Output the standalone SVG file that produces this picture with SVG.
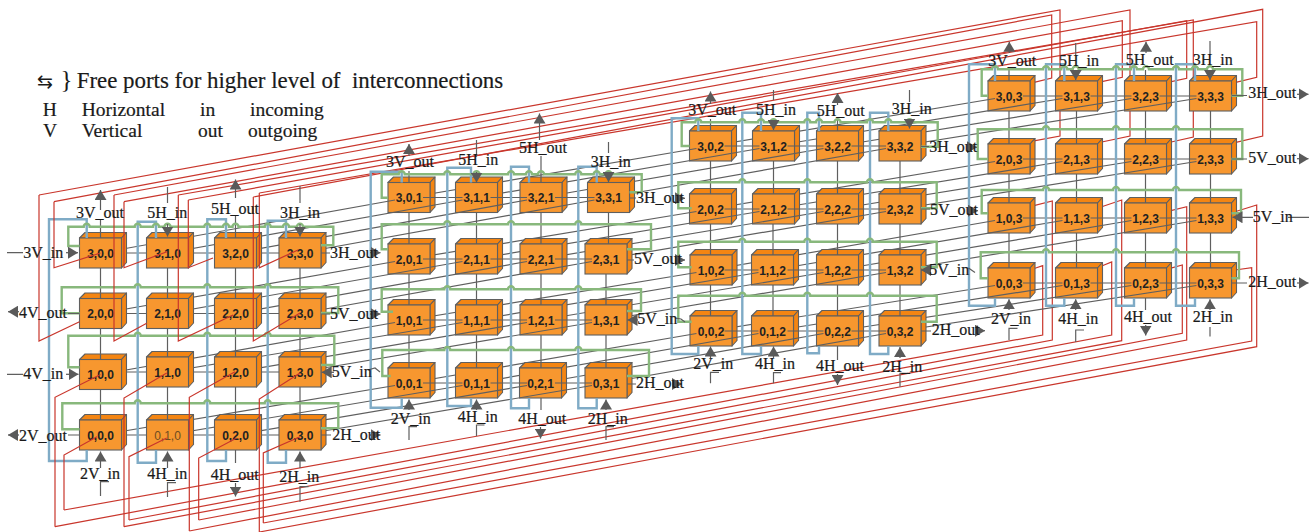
<svg xmlns="http://www.w3.org/2000/svg" width="1314" height="532" viewBox="0 0 1314 532">
<style>
text{font-family:"Liberation Serif","Times New Roman",serif;fill:#1a1a1a}
.n{font-family:"Liberation Sans",Arial,sans-serif;font-size:12px;font-weight:bold;text-anchor:middle;fill:#222}
.l{font-size:16px;stroke:#1a1a1a;stroke-width:.2}
.t{font-size:19.5px;stroke:#1a1a1a;stroke-width:.2}
.g,.a,.red,.blue,.green{fill:none}
.g{stroke:#5f5f5f;stroke-width:1.2}
.a{stroke:#5a5a5a;stroke-width:1.2;marker-end:url(#arr)}
.red{stroke:#c9362c;stroke-width:1.2}
.blue{stroke:#7fabc6;stroke-width:2.4}
.green{stroke:#88b87c;stroke-width:2.4}
.f{fill:#f7972f;stroke:#5f5f5f;stroke-width:1.1}
.s{fill:#f48512;stroke:#5f5f5f;stroke-width:1.1;stroke-linejoin:round}
</style>
<defs>
<marker id="arr" markerUnits="userSpaceOnUse" markerWidth="11" markerHeight="12" refX="10" refY="6" orient="auto"><path d="M0 0L10 6L0 12z" fill="#5a5a5a"/></marker>
<g id="cube"><polygon class="s" points="0,0 5.5,-5.5 47,-5.5 42,0"/><polygon class="s" points="42,0 47,-5.5 47,24.5 42,30"/><rect class="f" width="42" height="30"/></g>
</defs>
<rect width="1314" height="532" fill="#fff"/>

<g id="conn-red-long" class="red">
<path d="M54 201.7L1051.7 15V78L1030 83.3"/>
<path d="M39 195L1060 10V136L1030 141.7"/>
<path d="M124 201.7L1122.3 20.7V77.3L1097 82.7"/>
<path d="M114 195L1130 10V136L1097 143"/>
<path d="M188.3 200L1186.7 20.7V78.3L1166.7 82.7"/>
<path d="M178.3 195L1193.3 20V137L1166.7 143"/>
<path d="M259.3 193L1256.7 21.7V77.3L1231.7 83.3"/>
<path d="M253.3 197L1262.7 9.3V136L1231.7 143.3"/>
<path d="M55 526.7L1052.3 340V201L1030 206.7"/>
<path d="M64 510L1042.7 335V265.7L1035 268.3"/>
<path d="M124 526.7L1121.7 340.7V200L1101.7 206.7"/>
<path d="M129 520L1111.7 335V262L1101.7 266"/>
<path d="M189.3 531L1186.7 340V206.7L1166.7 211.7"/>
<path d="M198.7 520L1182.3 333.3V265L1170 268.3"/>
<path d="M259.3 532L1256.7 346.7V205L1235 211.7"/>
<path d="M263.3 523L1251.7 341V267.7L1235 270"/>
</g>

<g id="nodes-layer-3">
<g id="n3-0-3"><use href="#cube" x="988" y="81"/><text class="n" x="1009" y="100.5">3,0,3</text></g>
<g id="n3-1-3"><use href="#cube" x="1055.5" y="81"/><text class="n" x="1076.5" y="100.5">3,1,3</text></g>
<g id="n3-2-3"><use href="#cube" x="1124.5" y="81"/><text class="n" x="1145.5" y="100.5">3,2,3</text></g>
<g id="n3-3-3"><use href="#cube" x="1189.5" y="81"/><text class="n" x="1210.5" y="100.5">3,3,3</text></g>
<g id="n2-0-3"><use href="#cube" x="988" y="144"/><text class="n" x="1009" y="163.5">2,0,3</text></g>
<g id="n2-1-3"><use href="#cube" x="1055.5" y="144"/><text class="n" x="1076.5" y="163.5">2,1,3</text></g>
<g id="n2-2-3"><use href="#cube" x="1124.5" y="144"/><text class="n" x="1145.5" y="163.5">2,2,3</text></g>
<g id="n2-3-3"><use href="#cube" x="1189.5" y="144"/><text class="n" x="1210.5" y="163.5">2,3,3</text></g>
<g id="n1-0-3"><use href="#cube" x="988" y="203"/><text class="n" x="1009" y="222.5">1,0,3</text></g>
<g id="n1-1-3"><use href="#cube" x="1055.5" y="203"/><text class="n" x="1076.5" y="222.5">1,1,3</text></g>
<g id="n1-2-3"><use href="#cube" x="1124.5" y="203"/><text class="n" x="1145.5" y="222.5">1,2,3</text></g>
<g id="n1-3-3"><use href="#cube" x="1189.5" y="203"/><text class="n" x="1210.5" y="222.5">1,3,3</text></g>
<g id="n0-0-3"><use href="#cube" x="988" y="268"/><text class="n" x="1009" y="287.5">0,0,3</text></g>
<g id="n0-1-3"><use href="#cube" x="1055.5" y="268"/><text class="n" x="1076.5" y="287.5">0,1,3</text></g>
<g id="n0-2-3"><use href="#cube" x="1124.5" y="268"/><text class="n" x="1145.5" y="287.5">0,2,3</text></g>
<g id="n0-3-3"><use href="#cube" x="1189.5" y="268"/><text class="n" x="1210.5" y="287.5">0,3,3</text></g>
</g>

<g id="conn-layer-3" class="g">
<path d="M710.5 146L995 98.5M773.5 146L1062.5 98.5M837.5 146L1131.5 98.5M900 146L1196.5 98.5M710.5 209L995 161.5M773.5 209L1062.5 161.5M837.5 209L1131.5 161.5M900 209L1196.5 161.5M710.5 270L995 220.5M772.5 270L1062.5 220.5M837.5 270L1131.5 220.5M900 270L1196.5 220.5M710.5 331L995 285.5M772.5 331L1062.5 285.5M837.5 331L1131.5 285.5M900 331L1196.5 285.5"/>
<path d="M1023 96H1062.5M1090.5 96H1131.5M1159.5 96H1196.5M1023 159H1062.5M1090.5 159H1131.5M1159.5 159H1196.5M1023 218H1062.5M1090.5 218H1131.5M1159.5 218H1196.5M1023 283H1062.5M1090.5 283H1131.5M1159.5 283H1196.5"/>
<path d="M1009 70V81M1009 111V144M1009 174V203M1009 233V268M1076.5 111V144M1076.5 174V203M1076.5 233V268M1145.5 70V81M1145.5 111V144M1145.5 174V203M1145.5 233V268M1145.5 298V310M1210.5 111V144M1210.5 174V203M1210.5 233V268"/>
</g>

<g id="nodes-layer-2">
<g id="n3-0-2"><use href="#cube" x="689.5" y="131"/><text class="n" x="710.5" y="150.5">3,0,2</text></g>
<g id="n3-1-2"><use href="#cube" x="752.5" y="131"/><text class="n" x="773.5" y="150.5">3,1,2</text></g>
<g id="n3-2-2"><use href="#cube" x="816.5" y="131"/><text class="n" x="837.5" y="150.5">3,2,2</text></g>
<g id="n3-3-2"><use href="#cube" x="879" y="131"/><text class="n" x="900" y="150.5">3,3,2</text></g>
<g id="n2-0-2"><use href="#cube" x="689.5" y="194"/><text class="n" x="710.5" y="213.5">2,0,2</text></g>
<g id="n2-1-2"><use href="#cube" x="752.5" y="194"/><text class="n" x="773.5" y="213.5">2,1,2</text></g>
<g id="n2-2-2"><use href="#cube" x="816.5" y="194"/><text class="n" x="837.5" y="213.5">2,2,2</text></g>
<g id="n2-3-2"><use href="#cube" x="879" y="194"/><text class="n" x="900" y="213.5">2,3,2</text></g>
<g id="n1-0-2"><use href="#cube" x="690" y="255"/><text class="n" x="711" y="274.5">1,0,2</text></g>
<g id="n1-1-2"><use href="#cube" x="751.5" y="255"/><text class="n" x="772.5" y="274.5">1,1,2</text></g>
<g id="n1-2-2"><use href="#cube" x="816.5" y="255"/><text class="n" x="837.5" y="274.5">1,2,2</text></g>
<g id="n1-3-2"><use href="#cube" x="879" y="255"/><text class="n" x="900" y="274.5">1,3,2</text></g>
<g id="n0-0-2"><use href="#cube" x="690" y="316"/><text class="n" x="711" y="335.5">0,0,2</text></g>
<g id="n0-1-2"><use href="#cube" x="751.5" y="316"/><text class="n" x="772.5" y="335.5">0,1,2</text></g>
<g id="n0-2-2"><use href="#cube" x="816.5" y="316"/><text class="n" x="837.5" y="335.5">0,2,2</text></g>
<g id="n0-3-2"><use href="#cube" x="879" y="316"/><text class="n" x="900" y="335.5">0,3,2</text></g>
</g>

<g id="conn-layer-2" class="g">
<path d="M409 197.5L696.5 148.5M476.5 197.5L759.5 148.5M541 197.5L823.5 148.5M608.5 197.5L886 148.5M409 259L696.5 211.5M476.5 259L759.5 211.5M541 259L823.5 211.5M606 259L886 211.5M409 320L696.5 272.5M476.5 320L758.5 272.5M541 320L823.5 272.5M606 320L886 272.5M409 383L696.5 333.5M476.5 383L758.5 333.5M541 383L823.5 333.5M606 383L886 333.5"/>
<path d="M724.5 146H759.5M787.5 146H823.5M851.5 146H886M724.5 209H759.5M787.5 209H823.5M851.5 209H886M724.5 270H758.5M787.5 270H823.5M851.5 270H886M724.5 331H758.5M787.5 331H823.5M851.5 331H886"/>
<path d="M710.5 119V131M710.5 161V194M710.5 224V255M710.5 285V316M773.5 161V194M773 224V255M773 285V316M837.5 119V131M837.5 161V194M837.5 224V255M837.5 285V316M837.5 346V360M900 161V194M900 224V255M900 285V316"/>
</g>

<g id="nodes-layer-1">
<g id="n3-0-1"><use href="#cube" x="388" y="182.5"/><text class="n" x="409" y="202">3,0,1</text></g>
<g id="n3-1-1"><use href="#cube" x="455.5" y="182.5"/><text class="n" x="476.5" y="202">3,1,1</text></g>
<g id="n3-2-1"><use href="#cube" x="520" y="182.5"/><text class="n" x="541" y="202">3,2,1</text></g>
<g id="n3-3-1"><use href="#cube" x="587.5" y="182.5"/><text class="n" x="608.5" y="202">3,3,1</text></g>
<g id="n2-0-1"><use href="#cube" x="388" y="244"/><text class="n" x="409" y="263.5">2,0,1</text></g>
<g id="n2-1-1"><use href="#cube" x="455.5" y="244"/><text class="n" x="476.5" y="263.5">2,1,1</text></g>
<g id="n2-2-1"><use href="#cube" x="520" y="244"/><text class="n" x="541" y="263.5">2,2,1</text></g>
<g id="n2-3-1"><use href="#cube" x="585" y="244"/><text class="n" x="606" y="263.5">2,3,1</text></g>
<g id="n1-0-1"><use href="#cube" x="388" y="305"/><text class="n" x="409" y="324.5">1,0,1</text></g>
<g id="n1-1-1"><use href="#cube" x="455.5" y="305"/><text class="n" x="476.5" y="324.5">1,1,1</text></g>
<g id="n1-2-1"><use href="#cube" x="520" y="305"/><text class="n" x="541" y="324.5">1,2,1</text></g>
<g id="n1-3-1"><use href="#cube" x="585" y="305"/><text class="n" x="606" y="324.5">1,3,1</text></g>
<g id="n0-0-1"><use href="#cube" x="388" y="368"/><text class="n" x="409" y="387.5">0,0,1</text></g>
<g id="n0-1-1"><use href="#cube" x="455.5" y="368"/><text class="n" x="476.5" y="387.5">0,1,1</text></g>
<g id="n0-2-1"><use href="#cube" x="519.5" y="368"/><text class="n" x="540.5" y="387.5">0,2,1</text></g>
<g id="n0-3-1"><use href="#cube" x="585" y="368"/><text class="n" x="606" y="387.5">0,3,1</text></g>
</g>

<g id="conn-layer-1" class="g">
<path d="M100.5 253L395 200M167.5 253L462.5 200M235.5 253L527 200M300 253L594.5 200M100.5 313.5L395 261.5M167.5 313.5L462.5 261.5M235.5 313.5L527 261.5M300 313.5L592 261.5M100.5 374.5L395 322.5M167.5 372L462.5 322.5M235.5 372L527 322.5M300 372L592 322.5M100.5 435L395 385.5M167.5 435L462.5 385.5M235.5 435L527 385.5M300 435L592 385.5"/>
<path d="M423 197.5H462.5M490.5 197.5H527M555 197.5H594.5M423 259H462.5M490.5 259H527M555 259H592M423 320H462.5M490.5 320H527M555 320H592M423 383H462.5M490.5 383H527M555 383H592"/>
<path d="M409 171V182.5M409 212.5V244M409 274V305M409 335V368M476.5 212.5V244M476.5 274V305M476.5 335V368M541 156V182.5M541 212.5V244M541 274V305M541 335V368M541 398V410M608.5 212.5V244M606 274V305M606 335V368"/>
<path d="M100.5 253H300M100.5 313.5H300M100.5 372H300M100.5 435H300"/>
</g>

<g id="nodes-layer-0">
<g id="n3-0-0"><use href="#cube" x="79.5" y="238"/><text class="n" x="100.5" y="257.5">3,0,0</text></g>
<g id="n3-1-0"><use href="#cube" x="146.5" y="238"/><text class="n" x="167.5" y="257.5">3,1,0</text></g>
<g id="n3-2-0"><use href="#cube" x="214.5" y="238"/><text class="n" x="235.5" y="257.5">3,2,0</text></g>
<g id="n3-3-0"><use href="#cube" x="279" y="238"/><text class="n" x="300" y="257.5">3,3,0</text></g>
<g id="n2-0-0"><use href="#cube" x="79.5" y="298.5"/><text class="n" x="100.5" y="318">2,0,0</text></g>
<g id="n2-1-0"><use href="#cube" x="146.5" y="298.5"/><text class="n" x="167.5" y="318">2,1,0</text></g>
<g id="n2-2-0"><use href="#cube" x="214.5" y="298.5"/><text class="n" x="235.5" y="318">2,2,0</text></g>
<g id="n2-3-0"><use href="#cube" x="279" y="298.5"/><text class="n" x="300" y="318">2,3,0</text></g>
<g id="n1-0-0"><use href="#cube" x="79.5" y="359.5"/><text class="n" x="100.5" y="379">1,0,0</text></g>
<g id="n1-1-0"><use href="#cube" x="146.5" y="357"/><text class="n" x="167.5" y="376.5">1,1,0</text></g>
<g id="n1-2-0"><use href="#cube" x="214.5" y="357"/><text class="n" x="235.5" y="376.5">1,2,0</text></g>
<g id="n1-3-0"><use href="#cube" x="279" y="357"/><text class="n" x="300" y="376.5">1,3,0</text></g>
<g id="n0-0-0"><use href="#cube" x="79.5" y="420"/><text class="n" x="100.5" y="439.5">0,0,0</text></g>
<g id="n0-1-0"><use href="#cube" x="146.5" y="420"/><text class="n" x="167.5" y="439.5" style="fill:#6d4c22;font-weight:normal">0,1,0</text></g>
<g id="n0-2-0"><use href="#cube" x="214.5" y="420"/><text class="n" x="235.5" y="439.5">0,2,0</text></g>
<g id="n0-3-0"><use href="#cube" x="279" y="420"/><text class="n" x="300" y="439.5">0,3,0</text></g>
</g>

<g id="conn-layer-0" class="g">
<path d="M100.5 220V238M100.5 268V298.5M100.5 328.5V359.5M100.5 389.5V420M167.5 268V298.5M167.5 328.5V357M167.5 387V420M235.5 216V238M235.5 268V298.5M235.5 328.5V357M235.5 387V420M235.5 450V463M300 268V298.5M300 328.5V357M300 387V420"/>
</g>

<g id="conn-blue" class="blue">
<path d="M86.7 238V219.3H49V461H86.7V450"/>
<path d="M156 238V221.7H137.7V462.7H156V450"/>
<path d="M226 238V219.3H207.3V461H226V450"/>
<path d="M286 238V220.7H267.7V462.7H286V450"/>
<path d="M401.7 182.5V171.7H370.7V407.7H401.7V398"/>
<path d="M471 182.5V167.7H447.3V406H471V398"/>
<path d="M529 182.5V166.7H511V408.3H529V398"/>
<path d="M596.7 182.5V166.7H578.3V408.3H596.7V398"/>
<path d="M698.3 131V118.3H671.7V354H698.3V346"/>
<path d="M761 131V112.7H742.3V354H761V346"/>
<path d="M819 131V112.7H807.3V353.3H819V346"/>
<path d="M888.3 131V112.7H870V354H888.3V346"/>
<path d="M995 81V64.3H969V305.7H995V298"/>
<path d="M1064.3 81V64.3H1046V305.7H1064.3V298"/>
<path d="M1134 81V64.3H1116V305.7H1134V298"/>
<path d="M1195 81V64.3H1176V305.7H1195V298"/>
</g>

<g id="conn-green" class="green">
<path d="M79.5 246H68.3V226.7H83.7a3 3 0 0 1 6 0H134.7a3 3 0 0 1 6 0H153a3 3 0 0 1 6 0H164.5a3 3 0 0 1 6 0H204.3a3 3 0 0 1 6 0H223a3 3 0 0 1 6 0H232.5a3 3 0 0 1 6 0H264.7a3 3 0 0 1 6 0H283a3 3 0 0 1 6 0H297a3 3 0 0 1 6 0H333.3V245.3H321"/>
<path d="M79.5 313.3H61.7V287.3H134.7a3 3 0 0 1 6 0H204.3a3 3 0 0 1 6 0H264.7a3 3 0 0 1 6 0H338.3V313H321"/>
<path d="M79.5 367.3H68.3V335.7H134.7a3 3 0 0 1 6 0H204.3a3 3 0 0 1 6 0H264.7a3 3 0 0 1 6 0H334.3V365H321"/>
<path d="M79.5 429.3H62.3V403.3H134.7a3 3 0 0 1 6 0H204.3a3 3 0 0 1 6 0H264.7a3 3 0 0 1 6 0H338.3V428.3H321"/>
<path d="M388 197.7H381.7V174.3H398.7a3 3 0 0 1 6 0H444.3a3 3 0 0 1 6 0H473.5a3 3 0 0 1 6 0H508a3 3 0 0 1 6 0H526a3 3 0 0 1 6 0H538a3 3 0 0 1 6 0H575.3a3 3 0 0 1 6 0H593.7a3 3 0 0 1 6 0H605.5a3 3 0 0 1 6 0H641.7V192.3H629.5"/>
<path d="M388 249.3H381.7V224.3H444.3a3 3 0 0 1 6 0H508a3 3 0 0 1 6 0H575.3a3 3 0 0 1 6 0H651V249.3H627"/>
<path d="M393 311.7H381.7V289.3H444.3a3 3 0 0 1 6 0H508a3 3 0 0 1 6 0H575.3a3 3 0 0 1 6 0H641V311H627"/>
<path d="M390.7 376H382.3V350H444.3a3 3 0 0 1 6 0H508a3 3 0 0 1 6 0H575.3a3 3 0 0 1 6 0H649V376H627"/>
<path d="M689.5 146H681.7V122.3H695.3a3 3 0 0 1 6 0H739.3a3 3 0 0 1 6 0H758a3 3 0 0 1 6 0H770.5a3 3 0 0 1 6 0H804.3a3 3 0 0 1 6 0H816a3 3 0 0 1 6 0H834.5a3 3 0 0 1 6 0H867a3 3 0 0 1 6 0H885.3a3 3 0 0 1 6 0H906.5a3 3 0 0 1 6 0H937.7V146.7H921"/>
<path d="M691.7 208.3H678.3V182.3H739.3a3 3 0 0 1 6 0H804.3a3 3 0 0 1 6 0H867a3 3 0 0 1 6 0H936.7V208.3H921"/>
<path d="M691.7 267.3H678.3V241.7H739.3a3 3 0 0 1 6 0H804.3a3 3 0 0 1 6 0H867a3 3 0 0 1 6 0H936.7V267.3H921"/>
<path d="M691.7 321.7H678.3V295.7H739.3a3 3 0 0 1 6 0H804.3a3 3 0 0 1 6 0H867a3 3 0 0 1 6 0H936.7V321.7H921"/>
<path d="M988 95.7H981.7V69.3H992a3 3 0 0 1 6 0H1043a3 3 0 0 1 6 0H1061.3a3 3 0 0 1 6 0H1072.7a3 3 0 0 1 6 0H1113a3 3 0 0 1 6 0H1131a3 3 0 0 1 6 0H1143a3 3 0 0 1 6 0H1173a3 3 0 0 1 6 0H1192a3 3 0 0 1 6 0H1207a3 3 0 0 1 6 0H1242.3V95.7H1231.5"/>
<path d="M988 159H977.7V129.3H1043a3 3 0 0 1 6 0H1113a3 3 0 0 1 6 0H1173a3 3 0 0 1 6 0H1242.3V159H1231.5"/>
<path d="M988 213.3H981.7V190H1043a3 3 0 0 1 6 0H1113a3 3 0 0 1 6 0H1173a3 3 0 0 1 6 0H1241V213.3H1231.5"/>
<path d="M988 278.3H980.7V252.3H1043a3 3 0 0 1 6 0H1113a3 3 0 0 1 6 0H1173a3 3 0 0 1 6 0H1239V278.3H1231.5"/>
</g>

<g id="conn-red-front" class="red">
<path d="M100.5 253L54 267.7V201.7"/>
<path d="M79.5 321.7L39 341V195"/>
<path d="M167 251.7L124 267.7V201.7"/>
<path d="M146.7 323.3L114 341V195"/>
<path d="M213 258L188.3 267.7V200"/>
<path d="M233 315L178.3 341V195"/>
<path d="M298 250L259.3 267.7V193"/>
<path d="M300 313L253.3 341V197"/>
<path d="M100.5 374.5L55 397.3V526.7"/>
<path d="M97 436.7L64 455V510"/>
<path d="M166.7 373L124 398V526.7"/>
<path d="M166.7 438L129 456.7V520"/>
<path d="M235 371.7L189.3 397.3V531"/>
<path d="M236.7 438L198.7 458V520"/>
<path d="M300 373L259.3 399V532"/>
<path d="M300 436.7L263.3 453V523"/>
</g>

<g id="conn-ports">
<path class="g" d="M167.5 187V203M300 186V203M7 252.7H23M321 253H330M68 313.5H79.5M321 314H330M7 374.3H23M68 435H79.5M321 435H331M100.5 496V481.7H109M167.5 497V482.7H176M300 501.7V486.7H308.5M368 370L375 368L380 372"/>
<path class="a" d="M100.5 210V190"/><path class="a" d="M167.5 224V236.5"/><path class="a" d="M235.5 198V179.5"/><path class="a" d="M300 224V236.5"/>
<path class="a" d="M66 252.7H78"/><path class="a" d="M370 252.7H380.5"/><path class="a" d="M19 311.7H8"/><path class="a" d="M370 314H380.5"/>
<path class="a" d="M66 374.3H78.5"/><path class="a" d="M334 372.3H321.7"/><path class="a" d="M19 435H8"/><path class="a" d="M370 435H380.5"/>
<path class="a" d="M100.5 468V451.5"/><path class="a" d="M167.5 468V451.5"/><path class="a" d="M235.5 483V496.5"/><path class="a" d="M300 468V451.5"/>

<path class="g" d="M476.5 140V156.7M608.5 142V153M629.5 198H636M627 260H634M627 384H636M409 440V426.7H417M476.5 436V425H484.5M606 440V426.7H614M675 318L681 319L685 322"/>
<path class="a" d="M409 156V144"/><path class="a" d="M476.5 172V182.5"/><path class="a" d="M539.5 140V113.5"/><path class="a" d="M608.5 172V182"/>
<path class="a" d="M675 198.3H685"/><path class="a" d="M675 260H685"/><path class="a" d="M638 320H627.5"/><path class="a" d="M672 384H682"/>
<path class="a" d="M409 410V399.5"/><path class="a" d="M476.5 410V399.5"/><path class="a" d="M540.5 427V438.5"/><path class="a" d="M606 410V399.5"/>

<path class="g" d="M773.5 90V100M909.5 90V102M921 146.5H929M921 209H930M921 331H931M710.5 383.3V372.3H719M773.5 383.3V372.7H781M900 386.7V373.3H908M968.5 268L975 272.5"/>
<path class="a" d="M710.5 104V91.5"/><path class="a" d="M773.5 120V130"/><path class="a" d="M837.5 105V93"/><path class="a" d="M909.5 120V128.5"/>
<path class="a" d="M967 147.3H977"/><path class="a" d="M968 210.7H978"/><path class="a" d="M930 270H921"/><path class="a" d="M975 330.7H985"/>
<path class="a" d="M710.5 358V346.5"/><path class="a" d="M773.5 358V346.5"/><path class="a" d="M837.5 374V385"/><path class="a" d="M900 358V347"/>

<path class="g" d="M1075.7 43V55M1210 41V55M1232 95.5H1247M1232 159H1247M1243 217.3H1253M1288 217.3H1309M1232 283H1247M1009 340V328.3H1017.5M1075.7 342V330H1084M1210 327V336.5"/>
<path class="a" d="M1009.3 53V41.7"/><path class="a" d="M1075.7 70V80"/><path class="a" d="M1146 53V41.7"/><path class="a" d="M1210 70V80"/>
<path class="a" d="M1297 94.3H1308.5"/><path class="a" d="M1297 158.7H1308.5"/><path class="a" d="M1243 217.3H1232.5"/><path class="a" d="M1297 283H1308.5"/>
<path class="a" d="M1009 310V299.3"/><path class="a" d="M1075.7 310V299.3"/><path class="a" d="M1145.7 325V335.5"/><path class="a" d="M1210 310V299.3"/>
</g>

<g id="labels" class="l">
<text x="23.3" y="258.3">3V_in</text><text x="76" y="218.3">3V_out</text><text x="147.3" y="217.7">5H_in</text><text x="211" y="214">5H_out</text><text x="280" y="217.7">3H_in</text><text x="330" y="257.7">3H_out</text>
<text x="19" y="317.7">4V_out</text><text x="330" y="319">5V_out</text><text x="23.3" y="379.3">4V_in</text><text x="331.7" y="377.3">5V_in</text><text x="19" y="440.7">2V_out</text><text x="332.3" y="440">2H_out</text>
<text x="80" y="479.3">2V_in</text><text x="147.3" y="479.3">4H_in</text><text x="210.7" y="480">4H_out</text><text x="279.3" y="481.7">2H_in</text>

<text x="386" y="167.3">3V_out</text><text x="458.3" y="165">5H_in</text><text x="519" y="152.7">5H_out</text><text x="590.7" y="166.7">3H_in</text><text x="636" y="202.7">3H_out</text><text x="634" y="264">5V_out</text><text x="637.3" y="324.3">5V_in</text><text x="636" y="388.3">2H_out</text>
<text x="390.7" y="424">2V_in</text><text x="457.7" y="422.3">4H_in</text><text x="518.3" y="424">4H_out</text><text x="587.7" y="424">2H_in</text>

<text x="688.3" y="115">3V_out</text><text x="756" y="115">5H_in</text><text x="816.7" y="116">5H_out</text><text x="891.7" y="114">3H_in</text><text x="929.3" y="151.7">3H_out</text><text x="930" y="215">5V_out</text><text x="929.3" y="275">5V_in</text><text x="931.7" y="335">2H_out</text>
<text x="693.3" y="369.3">2V_in</text><text x="755" y="369.3">4H_in</text><text x="816" y="370.7">4H_out</text><text x="882.3" y="371.7">2H_in</text>

<text x="988.3" y="66">3V_out</text><text x="1059" y="66">5H_in</text><text x="1125.7" y="65">5H_out</text><text x="1192.7" y="65">3H_in</text><text x="1248.3" y="98.3">3H_out</text><text x="1248.3" y="162.7">5V_out</text><text x="1252.7" y="221.7">5V_in</text><text x="1248.3" y="286.7">2H_out</text>
<text x="991" y="324.3">2V_in</text><text x="1058.3" y="324.3">4H_in</text><text x="1124" y="321.7">4H_out</text><text x="1192.7" y="321.7">2H_in</text>
</g>

<g id="legend">
<text x="37" y="88" style="font-family:'DejaVu Sans',sans-serif;font-size:19px">⇆</text>
<text x="60.5" y="88" style="font-size:25px">}</text>
<text x="76.7" y="88" style="font-size:22.9px;white-space:pre;stroke:#1a1a1a;stroke-width:.2">Free ports for higher level of  interconnections</text>
<text class="t" x="42.7" y="116">H</text><text class="t" x="81.7" y="116">Horizontal</text><text class="t" x="200" y="116">in</text><text class="t" x="250" y="116">incoming</text>
<text class="t" x="43" y="137">V</text><text class="t" x="81.7" y="137">Vertical</text><text class="t" x="198" y="137">out</text><text class="t" x="248" y="137">outgoing</text>
</g>
</svg>
